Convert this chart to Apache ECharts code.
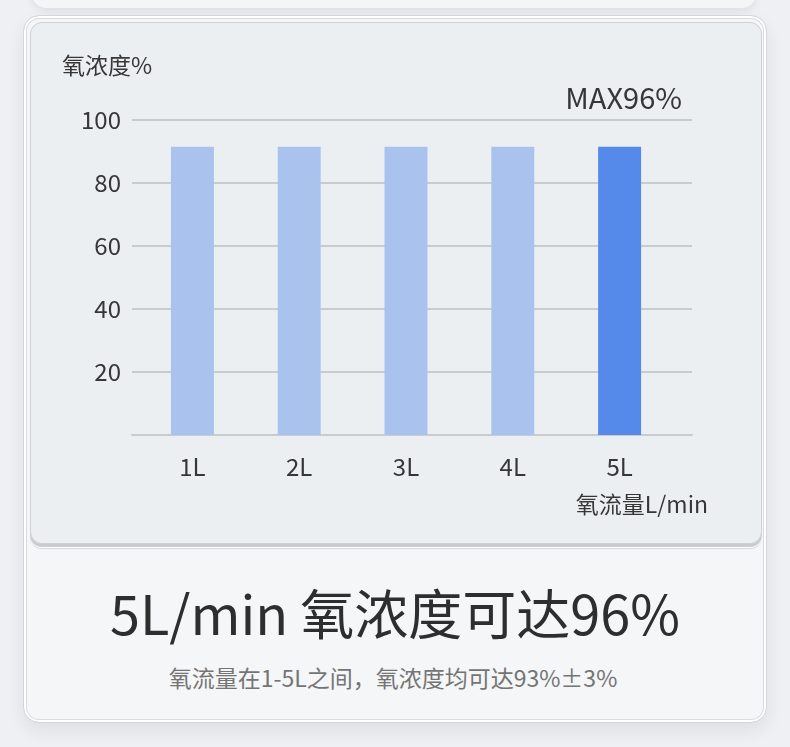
<!DOCTYPE html>
<html>
<head>
<meta charset="utf-8">
<title>氧浓度</title>
<script src="https://cdn.jsdelivr.net/npm/echarts@6/dist/echarts.min.js"></script>
<style>
    html, body { margin: 0; padding: 0; width: 790px; height: 747px; overflow: hidden; background: #eff0f3; font-family: "Noto Sans CJK SC", "Noto Sans", sans-serif; }
    .top-card { position: absolute; left: 32px; top: -30px; width: 724px; height: 38px; background: #f4f5f7; border-radius: 14px; box-shadow: 0 3px 8px rgba(0,0,0,.08); }
    .frame { position: absolute; left: 23px; top: 15px; width: 742px; height: 706px; background: #f5f6f8; border: 1px solid #d4d6da; border-radius: 16px; box-shadow: inset 0 0 0 2px #fff, inset 0 0 0 3px #d9dbdf, 0 8px 18px rgba(0,0,0,.07); }
    .chart-card { position: absolute; left: 30px; top: 22px; width: 730px; height: 520px; background: #eceff2; border: 1px solid #cfd1d5; border-radius: 12px; box-shadow: 0 3px 0 #c9cbcf, 0 4px 0 #fff, 0 5px 0 #d6d8dc; }
    #main { position: absolute; left: 0; top: 0; width: 790px; height: 747px; }
    .title { position: absolute; left: 23px; width: 744px; text-align: center; top: 577px; font-size: 54px; line-height: 70px; color: #2e2e2e; }
    .sub { position: absolute; left: 23px; width: 740px; text-align: center; top: 662px; font-size: 23px; line-height: 30px; color: #747474; }
</style>
</head>
<body>
<div class="top-card"></div>
<div class="frame"></div>
<div class="chart-card"></div>
<div class="title">5L/min 氧浓度可达96%</div>
<div class="sub">氧流量在1-5L之间，氧浓度均可达93%±3%</div>
<div id="main"></div>
<script>
// 数据
var categories = ['1L', '2L', '3L', '4L', '5L'];
var values = [91.5, 91.5, 91.5, 91.5, 91.5];
var highlightIndex = 4;
var yMin = 0, yMax = 100, yStep = 20;
var yName = '氧浓度%';
var xName = '氧流量L/min';
var maxText = 'MAX96%';

var myChart = echarts.init(document.getElementById('main'));

var labelColor = '#363636';
var lineColor = '#c9cbce';

var option = {
    animation: false,
    textStyle: { fontFamily: '"Noto Sans CJK SC", "Noto Sans", sans-serif' },
    grid: [
        // 网格线 + y 轴刻度
        { left: 132, right: 98, top: 120, bottom: 312 },
        // 柱子
        { left: 139, right: 117, top: 120, bottom: 312 }
    ],
    xAxis: [{
        gridIndex: 0,
        type: 'category',
        data: categories,
        axisLine: { lineStyle: { color: lineColor, width: 2 } },
        axisTick: { show: false },
        axisLabel: { show: false }
    }, {
        gridIndex: 1,
        type: 'category',
        data: categories,
        axisLine: { show: false },
        axisTick: { show: false },
        axisLabel: { color: labelColor, fontSize: 24, margin: 20 }
    }],
    yAxis: [{
        gridIndex: 0,
        type: 'value',
        min: yMin,
        max: yMax,
        interval: yStep,
        axisLine: { show: false },
        axisTick: { show: false },
        axisLabel: {
            color: labelColor,
            fontSize: 24,
            margin: 11,
            formatter: function (v) { return v === 0 ? '' : v; }
        },
        splitLine: { lineStyle: { color: lineColor, width: 2 } }
    }, {
        gridIndex: 1,
        type: 'value',
        min: yMin,
        max: yMax,
        interval: yStep,
        show: false
    }],
    graphic: [{
        type: 'text',
        left: 62,
        top: 54,
        style: { text: yName, fill: labelColor, fontSize: 23, fontFamily: '"Noto Sans CJK SC"' }
    }, {
        type: 'text',
        right: 108,
        top: 83,
        style: { text: maxText, fill: labelColor, fontSize: 29, fontFamily: '"Noto Sans CJK SC"' }
    }, {
        type: 'text',
        right: 82,
        top: 493,
        style: { text: xName, fill: labelColor, fontSize: 23, fontFamily: '"Noto Sans CJK SC"' }
    }],
    series: [{
        name: '氧浓度',
        type: 'bar',
        xAxisIndex: 1,
        yAxisIndex: 1,
        barWidth: 43,
        data: values.map(function (v, i) {
            return {
                value: v,
                itemStyle: { color: i === highlightIndex ? '#558aea' : '#aac3ee' }
            };
        })
    }]
};

myChart.setOption(option);
window.addEventListener('resize', function () {
    myChart.resize();
});
</script>
</body>
</html>
